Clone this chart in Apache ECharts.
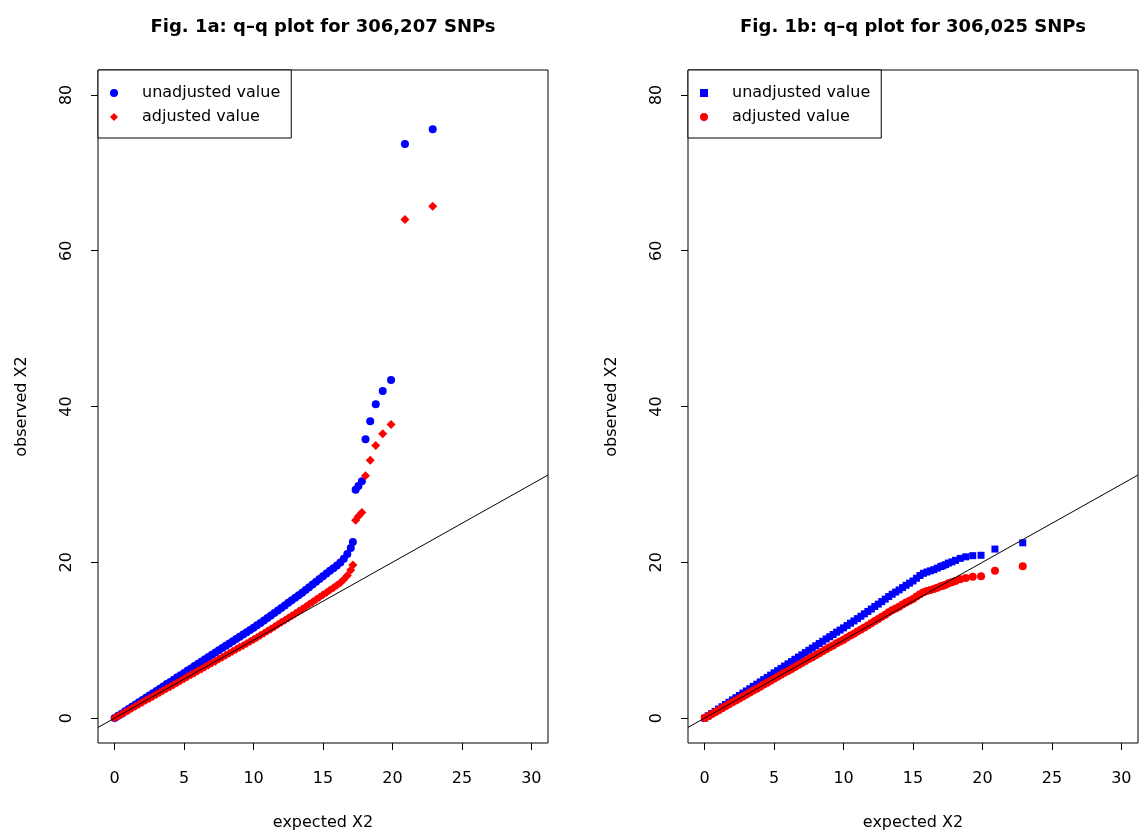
<!DOCTYPE html>
<html>
<head>
<meta charset="utf-8">
<script src="https://cdn.jsdelivr.net/npm/echarts@6/dist/echarts.min.js"></script>
<style>
html,body{margin:0;padding:0;background:#fff;}
#chart{width:1141px;height:831px;}
</style>
</head>
<body>
<div id="chart"></div>
<script>
// expected chi-square quantiles (shared by both panels)
const expectedX2 = [0,0.25,0.5,0.75,1,1.25,1.5,1.75,2,2.25,2.5,2.75,3,3.25,3.5,3.75,4,4.25,4.5,4.75,5,5.25,5.5,5.75,6,6.25,6.5,6.75,7,7.25,7.5,7.75,8,8.25,8.5,8.75,9,9.25,9.5,9.75,10,10.25,10.5,10.75,11,11.25,11.5,11.75,12,12.25,12.5,12.75,13,13.25,13.5,13.75,14,14.25,14.5,14.75,15,15.25,15.5,15.75,16,16.25,16.5,16.75,17,17.15,17.35,17.55,17.8,18.06,18.4,18.8,19.3,19.9,20.9,22.9];

// Fig. 1a observed values
const unadjA = [0.00,0.29,0.57,0.87,1.16,1.45,1.75,2.03,2.32,2.62,2.90,3.19,3.49,3.77,4.06,4.36,4.64,4.93,5.23,5.51,5.80,6.10,6.38,6.67,6.97,7.25,7.54,7.84,8.12,8.41,8.71,8.99,9.28,9.58,9.86,10.15,10.45,10.73,11.02,11.32,11.60,11.91,12.21,12.53,12.84,13.16,13.49,13.80,14.13,14.46,14.79,15.12,15.45,15.77,16.10,16.45,16.80,17.15,17.50,17.85,18.20,18.55,18.90,19.25,19.60,19.97,20.45,21.05,21.85,22.6,29.3,29.8,30.4,35.8,38.1,40.3,42.0,43.4,73.7,75.6];
const adjA = [0.00,0.25,0.50,0.76,1.01,1.26,1.52,1.77,2.02,2.28,2.52,2.77,3.03,3.28,3.53,3.79,4.03,4.29,4.55,4.79,5.04,5.30,5.55,5.80,6.06,6.30,6.56,6.82,7.06,7.31,7.57,7.82,8.07,8.33,8.57,8.83,9.09,9.33,9.58,9.84,10.09,10.36,10.62,10.90,11.17,11.44,11.73,12.00,12.29,12.57,12.86,13.15,13.43,13.71,14.00,14.30,14.61,14.91,15.22,15.52,15.83,16.13,16.43,16.74,17.04,17.37,17.78,18.30,19.00,19.65,25.4,25.9,26.4,31.1,33.1,35.0,36.5,37.7,64.0,65.7];

// Fig. 1b observed values
const unadjB = [0.00,0.29,0.58,0.86,1.16,1.45,1.74,2.03,2.33,2.61,2.90,3.20,3.48,3.77,4.07,4.35,4.64,4.94,5.22,5.51,5.81,6.09,6.38,6.68,6.96,7.25,7.55,7.83,8.12,8.42,8.70,8.99,9.29,9.57,9.86,10.16,10.44,10.73,11.03,11.30,11.58,11.88,12.18,12.47,12.77,13.07,13.38,13.69,14.00,14.32,14.63,14.95,15.27,15.60,15.90,16.18,16.45,16.75,17.05,17.32,17.60,17.95,18.30,18.58,18.75,18.90,19.05,19.25,19.45,19.55,19.70,19.90,20.05,20.25,20.50,20.70,20.85,20.90,21.70,22.50];
const adjB = [0.00,0.25,0.50,0.75,1.01,1.26,1.51,1.77,2.02,2.27,2.52,2.78,3.03,3.28,3.54,3.78,4.03,4.30,4.54,4.79,5.05,5.30,5.55,5.81,6.05,6.30,6.57,6.81,7.06,7.32,7.57,7.82,8.08,8.32,8.57,8.83,9.08,9.33,9.59,9.83,10.07,10.33,10.59,10.84,11.10,11.37,11.63,11.90,12.17,12.45,12.72,13.00,13.28,13.57,13.83,14.07,14.30,14.57,14.83,15.06,15.30,15.61,15.91,16.16,16.30,16.43,16.57,16.74,16.91,17.00,17.13,17.30,17.43,17.61,17.82,17.99,18.13,18.20,18.90,19.50];

const xTicks = [0,5,10,15,20,25,30];
const yTicks = [0,20,40,60,80];
const xRange = [-1.2, 31.2];
const yRange = [-3.2, 83.2];
const titles = ['Fig. 1a: q\u2013q plot for 306,207 SNPs', 'Fig. 1b: q\u2013q plot for 306,025 SNPs'];
const seriesNames = ['unadjusted value', 'adjusted value'];

const FONT = 'DejaVu Sans';
const BLUE = '#0000ff', RED = '#ff0000';

const grids = [
  {left: 98, top: 70, width: 450, height: 673},
  {left: 688, top: 70, width: 450, height: 673}
];

function pairs(xs, ys){ return xs.map((x,i)=>[x, ys[i]]); }

function xAxisFor(i){
  return {
    type:'value', gridIndex:i, min:xRange[0], max:xRange[1],
    name:'expected X2', nameLocation:'middle', nameGap:72, nameMoveOverlap:false,
    nameTextStyle:{fontFamily:FONT, fontSize:16, color:'#000'},
    axisLine:{show:false, onZero:false},
    splitLine:{show:false},
    axisTick:{show:true, inside:false, length:7, lineStyle:{color:'#000', width:1}, customValues:xTicks},
    axisLabel:{show:true, margin:28, fontFamily:FONT, fontSize:16, color:'#000', customValues:xTicks}
  };
}
function yAxisFor(i){
  return {
    type:'value', gridIndex:i, min:yRange[0], max:yRange[1],
    name:'observed X2', nameLocation:'middle', nameGap:68, nameMoveOverlap:false,
    nameTextStyle:{fontFamily:FONT, fontSize:16, color:'#000'},
    axisLine:{show:false, onZero:false},
    splitLine:{show:false},
    axisTick:{show:true, inside:false, length:7, lineStyle:{color:'#000', width:1}, customValues:yTicks},
    axisLabel:{show:true, rotate:90, margin:23, fontFamily:FONT, fontSize:16, color:'#000', customValues:yTicks}
  };
}
function legendFor(i, icons){
  return {
    orient:'vertical', left: grids[i].left, top: grids[i].top,
    padding:[14,11,12,12], itemWidth:8, itemHeight:8, itemGap:6,
    borderColor:'#000', borderWidth:1, borderRadius:0, backgroundColor:'#fff',
    selectedMode:false,
    textStyle:{fontFamily:FONT, fontSize:16, color:'#000', lineHeight:18, padding:[0,0,0,19]},
    data:[{name:seriesNames[0], icon:icons[0]}, {name:seriesNames[1], icon:icons[1]}]
  };
}
function refLine(i){
  return {
    type:'line', xAxisIndex:i, yAxisIndex:i, silent:true, symbol:'none',
    lineStyle:{color:'#000', width:1}, z:5,
    data:[[xRange[0], xRange[0]], [xRange[1], xRange[1]]]
  };
}

const option = {
  animation:false,
  backgroundColor:'#fff',
  title: titles.map((t,i)=>({
    text:t, left: grids[i].left + grids[i].width/2, top:18, textAlign:'center', padding:0,
    textStyle:{fontFamily:FONT, fontWeight:'bold', fontSize:18, color:'#000'}
  })),
  grid: grids.map(g=>Object.assign({show:true, borderColor:'#000', borderWidth:1, backgroundColor:'transparent', containLabel:false, outerBoundsMode:'none'}, g)),
  legend:[legendFor(0, ['circle','diamond']), legendFor(1, ['rect','circle'])],
  xAxis:[xAxisFor(0), xAxisFor(1)],
  yAxis:[yAxisFor(0), yAxisFor(1)],
  series:[
    {type:'scatter', name:seriesNames[0], xAxisIndex:0, yAxisIndex:0, symbol:'circle', symbolSize:8, itemStyle:{color:BLUE, opacity:1}, data:pairs(expectedX2, unadjA), z:2},
    {type:'scatter', name:seriesNames[1], xAxisIndex:0, yAxisIndex:0, symbol:'diamond', symbolSize:9, itemStyle:{color:RED, opacity:1}, data:pairs(expectedX2, adjA), z:3},
    refLine(0),
    {type:'scatter', name:seriesNames[0], xAxisIndex:1, yAxisIndex:1, symbol:'rect', symbolSize:7, itemStyle:{color:BLUE, opacity:1}, data:pairs(expectedX2, unadjB), z:2},
    {type:'scatter', name:seriesNames[1], xAxisIndex:1, yAxisIndex:1, symbol:'circle', symbolSize:8, itemStyle:{color:RED, opacity:1}, data:pairs(expectedX2, adjB), z:3},
    refLine(1)
  ]
};

const chart = echarts.init(document.getElementById('chart'), null, {renderer:'canvas'});
chart.setOption(option);
</script>
</body>
</html>
